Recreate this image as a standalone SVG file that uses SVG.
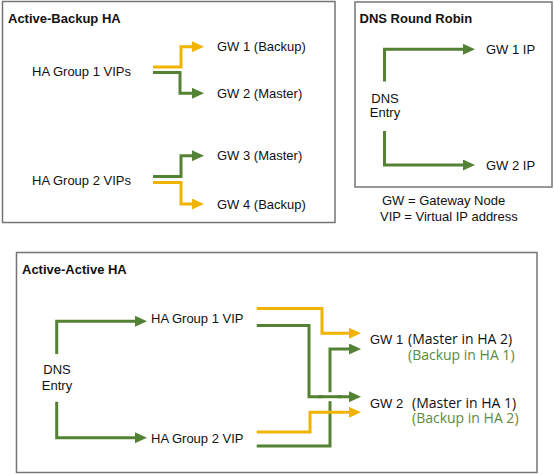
<svg xmlns="http://www.w3.org/2000/svg" width="554" height="475" viewBox="0 0 554 475">
<style>
.frame{fill:#fff;stroke:#757575;stroke-width:1.5}
.t{font-family:"Liberation Sans",Arial,sans-serif;font-size:13px;fill:#111}
.b{font-weight:bold}
.o{font-family:"Open Sans","Liberation Sans",sans-serif;font-size:14px;fill:#111}
.og{fill:#5b8c3c}
.y{fill:none;stroke:#F0B400;stroke-width:3}
.g{fill:none;stroke:#548235;stroke-width:3}
</style>
<defs>
<marker id="ay" viewBox="0 0 12 11" refX="6" refY="5.5" markerWidth="12" markerHeight="11" markerUnits="userSpaceOnUse" orient="auto"><path d="M0,0 L12,5.5 L0,11 z" fill="#F0B400"/></marker>
<marker id="ag" viewBox="0 0 12 11" refX="6" refY="5.5" markerWidth="12" markerHeight="11" markerUnits="userSpaceOnUse" orient="auto"><path d="M0,0 L12,5.5 L0,11 z" fill="#548235"/></marker>
</defs>
<rect width="554" height="475" fill="#fff"/>

<g id="frame-active-backup">
<rect class="frame" x="2.5" y="1.5" width="332.5" height="221"/>
<text class="t b" x="8" y="23">Active-Backup HA</text>
</g>
<g id="frame-dns-rr">
<rect class="frame" x="355" y="2" width="197" height="185"/>
<text class="t b" x="359.5" y="23">DNS Round Robin</text>
</g>
<g id="frame-active-active">
<rect class="frame" x="16.5" y="252.5" width="520.5" height="220"/>
<text class="t b" x="22" y="274">Active-Active HA</text>
</g>

<g id="connectors">
<path class="y" d="M153,67 H181 V46.7 H198" marker-end="url(#ay)"/>
<path class="g" d="M153,72.5 H180 V93.3 H198" marker-end="url(#ag)"/>
<path class="g" d="M153,176.5 H181 V155.7 H198" marker-end="url(#ag)"/>
<path class="y" d="M153,182.5 H181 V204 H198" marker-end="url(#ay)"/>

<path class="g" d="M384.5,81.5 V49.3 H469" marker-end="url(#ag)"/>
<path class="g" d="M384.5,131 V165 H469" marker-end="url(#ag)"/>

<path class="g" d="M56.7,354 V321.3 H141" marker-end="url(#ag)"/>
<path class="g" d="M56.7,401.7 V437.7 H141" marker-end="url(#ag)"/>

<path class="y" d="M256.7,308.5 H322 V333.3 H355" marker-end="url(#ay)"/>
<path class="g" d="M256.7,446 H330 V349 H355" marker-end="url(#ag)"/>
<path class="y" d="M256.7,432 H310 V412.3 H355" marker-end="url(#ay)"/>
<path class="g" d="M256.7,325.5 H309 V396.7 H355" marker-end="url(#ag)"/>
<path d="M323,396.7 H337" stroke="#fff" stroke-width="9" fill="none"/>
<path class="g" d="M318,396.7 H342"/>
</g>

<g id="node-ha1-vips"><text class="t" x="32" y="76">HA Group 1 VIPs</text></g>
<g id="node-ha2-vips"><text class="t" x="32" y="185">HA Group 2 VIPs</text></g>
<g id="node-gw1-backup"><text class="t" x="217" y="51">GW 1 (Backup)</text></g>
<g id="node-gw2-master"><text class="t" x="217" y="97.8">GW 2 (Master)</text></g>
<g id="node-gw3-master"><text class="t" x="217" y="160">GW 3 (Master)</text></g>
<g id="node-gw4-backup"><text class="t" x="217" y="209">GW 4 (Backup)</text></g>

<g id="node-dns-rr"><text class="t" x="385" y="103" text-anchor="middle">DNS</text><text class="t" x="385" y="117" text-anchor="middle">Entry</text></g>
<g id="node-gw1-ip"><text class="t" x="486" y="54">GW 1 IP</text></g>
<g id="node-gw2-ip"><text class="t" x="486" y="170">GW 2 IP</text></g>

<g id="legend">
<text class="t" x="382" y="205">GW = Gateway Node</text>
<text class="t" x="380" y="221">VIP = Virtual IP address</text>
</g>

<g id="node-dns-aa"><text class="t" x="57" y="374" text-anchor="middle">DNS</text><text class="t" x="57" y="390" text-anchor="middle">Entry</text></g>
<g id="node-ha1-vip"><text class="t" x="151" y="323">HA Group 1 VIP</text></g>
<g id="node-ha2-vip"><text class="t" x="151" y="443">HA Group 2 VIP</text></g>
<g id="node-gw1-aa">
<text class="t" x="370" y="344">GW 1</text>
<text class="o" x="408" y="344">(Master in HA 2)</text>
<text class="o og" x="408" y="360">(Backup in HA 1)</text>
</g>
<g id="node-gw2-aa">
<text class="t" x="370" y="408">GW 2</text>
<text class="o" x="412" y="408">(Master in HA 1)</text>
<text class="o og" x="412" y="422.5">(Backup in HA 2)</text>
</g>
</svg>
